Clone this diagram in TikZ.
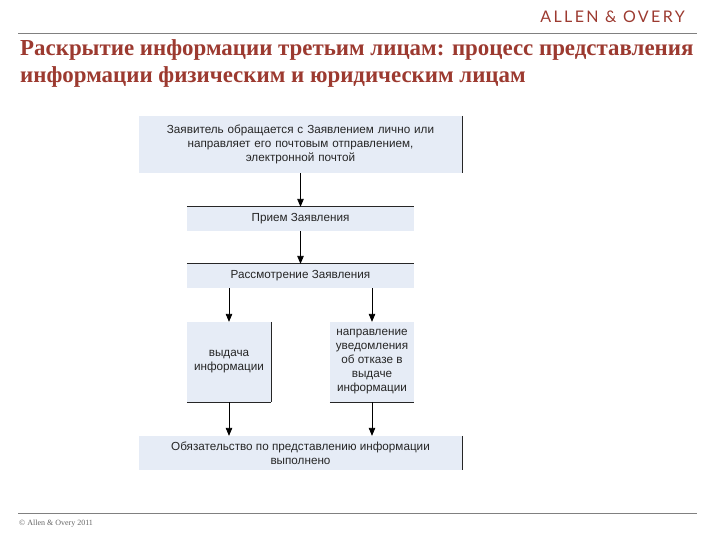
\documentclass[tikz,border=0pt]{standalone}
\usepackage{fontspec}
\setmainfont{Liberation Sans}
\newfontfamily\titlefont{Liberation Serif}
\newfontfamily\logofont[LetterSpace=15]{Lato}
\usetikzlibrary{arrows}
\definecolor{boxblue}{HTML}{E6ECF6}
\definecolor{titlered}{HTML}{9C3A30}
\definecolor{rulegray}{HTML}{808080}
\tikzstyle{ostep}=[rectangle,fill=boxblue,inner sep=0pt,align=center,font=\fontsize{11.7}{14}\selectfont,text=black!85]
\tikzstyle{dflow}=[-triangle 45, line width=0.8pt]
\tikzstyle{oedge}=[line width=0.9pt, black!85]
\tikzstyle{orule}=[line width=0.9pt, rulegray]

\begin{document}
\begin{tikzpicture}[x=1pt,y=-1pt]
\useasboundingbox (0,0) rectangle (720,540);
\node[font=\logofont\fontsize{16}{16}\selectfont,text=titlered] (Logo) at (612.5,17) {ALLEN \& OVERY};
\coordinate (HL) at (18,33);
\coordinate (HR) at (697,33);
\draw[orule] (HL)--(HR);
\node[anchor=west,inner sep=0pt,align=left,text=titlered,font=\titlefont\bfseries\fontsize{22.9}{27}\selectfont] (Title) at (20,63) {Раскрытие информации третьим лицам: процесс представления\\информации физическим и юридическим лицам};
\node[ostep,minimum width=323pt,minimum height=57pt,text width=290pt] (Z) at (300.5,144.5) {Заявитель обращается с Заявлением лично или\\направляет его почтовым отправлением,\\электронной почтой};
\node[ostep,minimum width=227pt,minimum height=24pt] (P) at (300.5,219) {Прием Заявления};
\node[ostep,minimum width=227pt,minimum height=24pt] (R) at (300.5,276) {Рассмотрение Заявления};
\node[ostep,minimum width=84pt,minimum height=80pt] (V) at (229,362) {выдача\\информации};
\node[ostep,minimum width=84pt,minimum height=80pt] (U) at (372,362) {направление\\уведомления\\об отказе в\\выдаче\\информации};
\node[ostep,minimum width=323pt,minimum height=34pt] (O) at (300.5,453) {Обязательство по представлению информации\\выполнено};
\draw[oedge](Z.north east)--(Z.south east);
\draw[oedge](P.north west)--(P.north east);
\draw[oedge](R.north west)--(R.north east);
\draw[oedge](V.north east)--(V.south east);
\draw[oedge](V.south west)--(V.south east);
\draw[oedge](U.south west)--(U.south east);
\draw[oedge](O.north east)--(O.south east);
\draw[dflow](Z)--(P);
\draw[dflow](P)--(R);
\draw[dflow](R.south -| V.north)--(V.north);
\draw[dflow](R.south -| U.north)--(U.north);
\draw[dflow](V.south)--(V.south |- O.north);
\draw[dflow](U.south)--(U.south |- O.north);
\coordinate (FL) at (18,513);
\coordinate (FR) at (697,513);
\draw[orule] (FL)--(FR);
\node[anchor=west,inner sep=0pt,text=black!60,font=\titlefont\fontsize{8}{9}\selectfont] (Copy) at (19,524) {© Allen \& Overy 2011};
\end{tikzpicture}
\end{document}
